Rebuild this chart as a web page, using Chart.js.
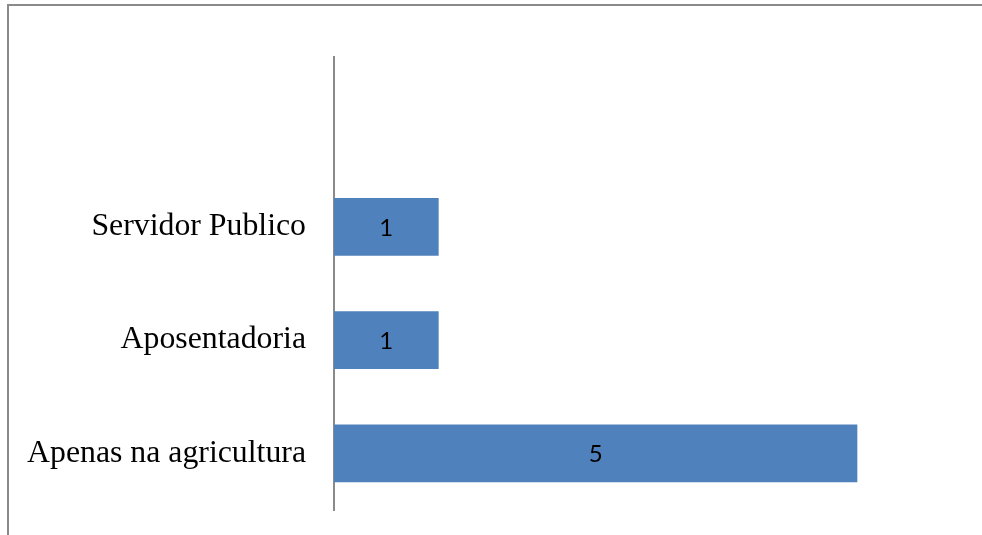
<!DOCTYPE html>
<html>
<head>
<meta charset="utf-8">
<script src="https://cdn.jsdelivr.net/npm/chart.js@4"></script>
<style>
  html, body { margin: 0; padding: 0; background: #fff; }
  #wrap { position: relative; width: 982px; height: 535px; overflow: hidden; }
  #frame { position: absolute; left: 7px; top: 4px; width: 990px; height: 540px;
           border-top: 2px solid #8a8a8a; border-left: 2px solid #8a8a8a; box-sizing: border-box; }
  canvas { position: absolute; left: 0; top: 0; }
</style>
</head>
<body>
<div id="wrap">
  <div id="frame"></div>
  <canvas id="c" width="982" height="535"></canvas>
</div>
<script>
const categories = ['', 'Servidor Publico', 'Aposentadoria', 'Apenas na agricultura'];
const values = [null, 1, 1, 5];
const xMin = 0;
const xMax = 6;

const barLabels = {
  id: 'barLabels',
  afterDatasetsDraw(chart) {
    const ctx = chart.ctx;
    const meta = chart.getDatasetMeta(0);
    ctx.save();
    ctx.font = '24px Lato, "Open Sans", sans-serif';
    ctx.fillStyle = '#000';
    ctx.textAlign = 'center';
    ctx.textBaseline = 'middle';
    meta.data.forEach((bar, i) => {
      const v = values[i];
      if (v === null || v === undefined) return;
      const cx = (bar.x + bar.base) / 2;
      ctx.fillText(String(v), cx, bar.y + 1);
    });
    ctx.restore();
  }
};

new Chart(document.getElementById('c'), {
  type: 'bar',
  data: {
    labels: categories,
    datasets: [{
      data: values,
      backgroundColor: '#4F81BD',
      borderWidth: 0,
      barPercentage: 0.512,
      categoryPercentage: 1
    }]
  },
  options: {
    indexAxis: 'y',
    responsive: false,
    animation: false,
    layout: { padding: { top: 57, bottom: 25, right: 20, left: 0 } },
    plugins: { legend: { display: false }, tooltip: { enabled: false } },
    scales: {
      x: { display: false, min: xMin, max: xMax, grid: { display: false } },
      y: {
        afterFit(scale) { scale.width = 334; scale.paddingTop = 0; scale.paddingBottom = 0; },
        grid: { display: false, drawTicks: false },
        border: { display: true, color: '#8a8a8a', width: 2 },
        ticks: {
          padding: 28,
          color: '#000',
          font: { family: '"Liberation Serif", "Times New Roman", serif', size: 31.8 }
        }
      }
    }
  },
  plugins: [barLabels]
});
</script>
</body>
</html>
